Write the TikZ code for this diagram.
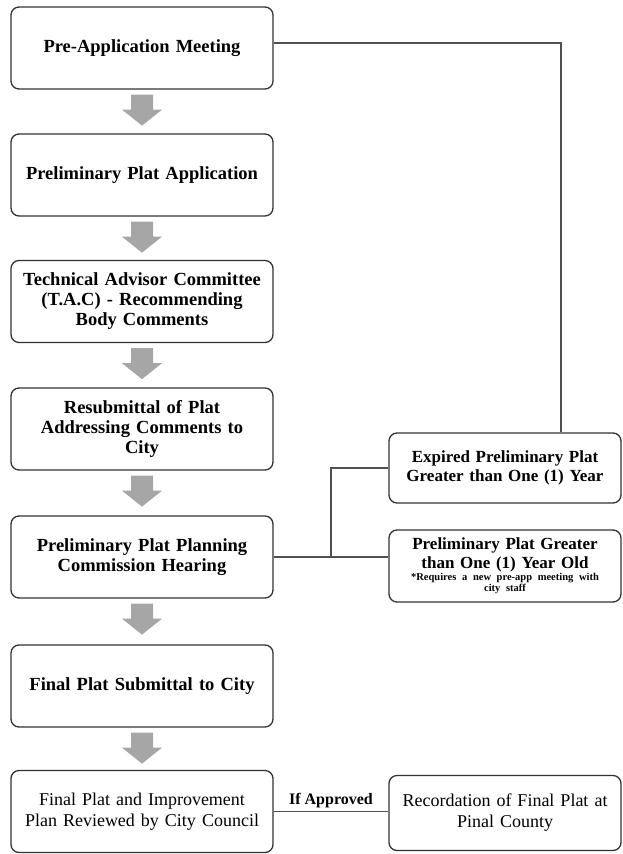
\documentclass[tikz,border=0pt]{standalone}
\usepackage{fontspec}
\setmainfont{Liberation Serif}
\usetikzlibrary{calc}
\definecolor{boxline}{RGB}{50,50,50}
\definecolor{linkline}{RGB}{80,80,80}
\definecolor{arrowgray}{RGB}{166,166,166}
\newcommand{\notefont}{\fontsize{10.5}{11.5}\selectfont}
\begin{document}
\begin{tikzpicture}[x=1pt,y=-1pt,
  stage/.style={draw=boxline,line width=1.3pt,rounded corners=8pt,minimum width=262pt,minimum height=82pt,text width=255pt,align=center,inner sep=2pt,font=\bfseries\fontsize{18.5}{20}\selectfont},
  side/.style={stage,minimum width=232pt,text width=226pt,font=\bfseries\fontsize{17}{19}\selectfont},
  link/.style={draw=linkline,line width=1.2pt}]
\useasboundingbox (0,0) rectangle (622,854);
\node[stage] (pre) at (142,48) {Pre-Application Meeting};
\node[stage] (prelim) at (142,175) {Preliminary Plat Application};
\node[stage] (tac) at (142,301.5) {Technical Advisor Committee\\(T.A.C) - Recommending\\Body Comments};
\node[stage] (resub) at (142,429) {Resubmittal of Plat\\Addressing Comments to\\City};
\node[stage] (hearing) at (142,557) {Preliminary Plat Planning\\Commission Hearing};
\node[stage] (submit) at (142,686) {Final Plat Submittal to City};
\node[stage,font=\fontsize{18}{21}\selectfont] (final) at (142,811.5) {Final Plat and Improvement\\Plan Reviewed by City Council};
\node[side,minimum height=70pt] (expired) at (505,468) {Expired Preliminary Plat\\Greater than One (1) Year};
\node[side,minimum height=72pt] (older) at (505,566) {Preliminary Plat Greater\\than One (1) Year Old\par{\notefont\mbox{*Requires a new pre-app meeting with}\\city staff\par}};
\node[side,minimum height=75pt,font=\fontsize{18}{21}\selectfont] (record) at (505,813) {Recordation of Final Plat at\\Pinal County};
\foreach \a in {pre,prelim,tac,resub,hearing,submit}
  \fill[arrowgray] ($(\a.south)+(-11,5)$) -- ++(22,0) -- ++(0,15) -- ++(9,0) -- ++(-20,16) -- ++(-20,-16) -- ++(9,0) -- cycle;
\coordinate (split) at ($(hearing.east)!0.5!(hearing.east -| older.west)$);
\draw[link] ([yshift=5pt]pre.east) -| ([xshift=56pt]expired.north);
\draw[link] (hearing.east) -- (hearing.east -| older.west);
\draw[link] (split) |- (expired.west);
\draw[link] (final.east) -- node[above,inner sep=3pt,font=\bfseries\fontsize{16}{18}\selectfont] (ifok) {If Approved} (final.east -| record.west);
\end{tikzpicture}
\end{document}
